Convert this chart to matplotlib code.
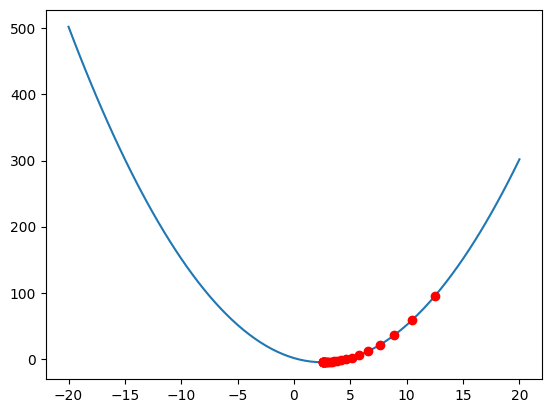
import matplotlib
matplotlib.use("Agg")
import matplotlib.pyplot as plt

# curve samples, every 0.5 from -20 to 20
curve_x = [i * 0.5 for i in range(-40, 41)]
curve_y = [502, 479.75, 458, 436.75, 416, 395.75, 376, 356.75, 338, 319.75,
           302, 284.75, 268, 251.75, 236, 220.75, 206, 191.75, 178, 164.75,
           152, 139.75, 128, 116.75, 106, 95.75, 86, 76.75, 68, 59.75,
           52, 44.75, 38, 31.75, 26, 20.75, 16, 11.75, 8, 4.75,
           2, -0.25, -2, -3.25, -4, -4.25, -4, -3.25, -2, -0.25,
           2, 4.75, 8, 11.75, 16, 20.75, 26, 31.75, 38, 44.75,
           52, 59.75, 68, 76.75, 86, 95.75, 106, 116.75, 128, 139.75,
           152, 164.75, 178, 191.75, 206, 220.75, 236, 251.75, 268, 284.75,
           302]

# descent steps
step_x = [12.5, 10.5, 8.9, 7.62, 6.6, 5.78, 5.12, 4.6, 4.18, 3.84, 3.57, 3.36, 3.19,
          3.05, 2.94, 2.85, 2.78, 2.73, 2.68, 2.64, 2.62, 2.59, 2.57, 2.56, 2.55, 2.54]
step_y = [95.75, 59.75, 36.71, 21.96, 12.53, 6.49, 2.62, 0.15, -1.43, -2.45, -3.10,
          -3.51, -3.78, -3.95, -4.06, -4.13, -4.17, -4.20, -4.22, -4.23, -4.24, -4.24,
          -4.25, -4.25, -4.25, -4.25]

fig = plt.figure(figsize=(5.52, 4.13), dpi=100)
ax = fig.add_subplot(111)
fig.subplots_adjust(left=46/552, right=542/552, top=1-10/413, bottom=1-379/413)
ax.plot(curve_x, curve_y)
ax.plot(step_x, step_y, "ro")
plt.savefig("out.png")
